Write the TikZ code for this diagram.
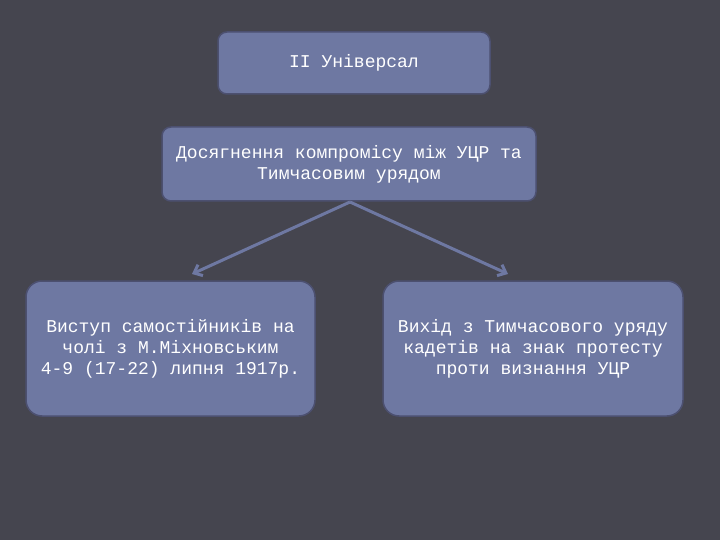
\documentclass[tikz,border=0pt]{standalone}
\usepackage{fontspec}
\setmonofont{Liberation Mono}
\begin{document}
\begin{tikzpicture}[x=1pt,y=-1pt,
  box/.style={draw=borderc,line width=1.5pt,fill=boxc,rounded corners=9pt,text=white,font=\ttfamily\fontsize{18}{21}\selectfont,align=center,inner sep=0pt},
  conn/.style={draw=boxc,line width=3pt,-{Straight Barb[length=7pt,width=12pt]}}]
\definecolor{bg}{HTML}{45454F}
\definecolor{boxc}{HTML}{6E78A2}
\definecolor{borderc}{HTML}{4C5070}
\usetikzlibrary{arrows.meta}
\fill[bg] (0,0) rectangle (720,540);
\useasboundingbox (0,0) rectangle (720,540);
\node[box,minimum width=272pt,minimum height=62pt] (a) at (354,63) {II Універсал};
\node[box,minimum width=374pt,minimum height=74pt] (b) at (349,164) {Досягнення компромісу між УЦР та\\Тимчасовим урядом};
\node[box,minimum width=289pt,minimum height=135pt,rounded corners=16pt] (c) at (170.5,348.5) {Виступ самостійників на\\чолі з М.Міхновським\\4-9 (17-22) липня 1917р.};
\node[box,minimum width=300pt,minimum height=135pt,rounded corners=16pt] (d) at (533,348.5) {Вихід з Тимчасового уряду\\кадетів на знак протесту\\проти визнання УЦР};
\coordinate (bs) at (350,202);
\draw[conn] (bs) -- (192,274);
\draw[conn] (bs) -- (508,274);
\end{tikzpicture}
\end{document}
